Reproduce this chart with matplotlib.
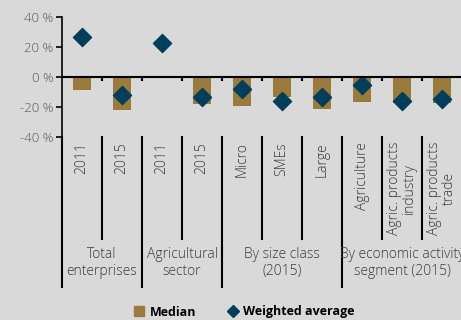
import matplotlib
matplotlib.use("Agg")
import matplotlib.pyplot as plt
from matplotlib.lines import Line2D
from matplotlib.transforms import blended_transform_factory
import numpy as np

plt.rcParams['font.family'] = ['Open Sans', 'DejaVu Sans']

categories = ["2011", "2015", "2011", "2015", "Micro", "SMEs", "Large",
              "Agriculture", "Agric. products\nindustry", "Agric. products\ntrade"]
groups = ["Total\nenterprises", "Agricultural\nsector", "By size class\n(2015)",
          "By economic activity\nsegment (2015)"]
group_sizes = [2, 2, 3, 3]
median = [-8.5, -21.8, 0, -17.8, -19.0, -13.5, -21.5, -16.4, -17.0, -17.5]
weighted = [26.5, -12.0, 22.7, -13.3, -8.0, -15.8, -13.1, -5.1, -16.0, -14.7]
yticks = [-40, -20, 0, 20, 40]
ytick_labels = ["-40 %", "-20 %", "0 %", "20 %", "40 %"]

bg = "#d9d9d9"
gold = "#9b7b3c"
navy = "#003f5c"
txt = "#3a3a3a"
LIGHT = "light"

W, H = 461, 320
fig = plt.figure(figsize=(W / 100, H / 100), dpi=100, facecolor=bg)
ax = fig.add_axes([62 / W, (H - 137) / H, 400 / W, 120 / H])
ax.set_facecolor(bg)

x = np.arange(len(categories))
ax.bar(x, median, width=0.45, color=gold, zorder=2, label="Median")
ax.scatter(x, weighted, marker="D", s=85, color=navy, zorder=3, label="Weighted average")

ax.set_xlim(-0.5, len(categories) - 0.5)
ax.set_ylim(-40, 40)
ax.set_yticks(yticks)
ax.set_yticklabels(ytick_labels, color="#595959", fontsize=9.5, fontweight=LIGHT)
ax.set_xticks([])
for s in ["top", "right", "bottom"]:
    ax.spines[s].set_visible(False)
ax.spines["left"].set_color("black")
ax.spines["left"].set_linewidth(1.2)
ax.tick_params(axis="y", length=4, width=1.2, color="black", pad=2)
ax.axhline(0, color="black", lw=1.5, zorder=4)
for b in np.arange(0.5, len(categories) - 0.5, 1.0):
    ax.plot([b, b], [0, -2.5], color="black", lw=1.5, zorder=4, solid_capstyle="butt")

trans = blended_transform_factory(ax.transData, fig.transFigure)
bounds = np.concatenate([[0], np.cumsum(group_sizes)]) - 0.5
group_b = set(np.round(bounds, 2))
for b in np.arange(-0.5, len(categories), 1.0):
    y_end = 287 if round(b, 2) in group_b else 239
    fig.add_artist(Line2D([b, b], [(H - 137) / H, (H - y_end) / H], transform=trans,
                          color="black", lw=1.5))

for i, c in enumerate(categories):
    fig.text(i, (H - 142) / H, c, transform=trans, rotation=90, ha="center", va="top",
             multialignment="center", fontsize=10, color=txt, linespacing=0.95,
             fontweight=LIGHT)

start = 0
for g, n in zip(groups, group_sizes):
    cx = start + (n - 1) / 2
    fig.text(cx, (H - 263) / H, g, transform=trans, ha="center", va="center",
             multialignment="center", fontsize=10, color=txt, linespacing=1.2,
             fontweight=LIGHT)
    start += n

handles = [Line2D([], [], marker="s", ls="none", color=gold, markersize=7),
           Line2D([], [], marker="D", ls="none", color=navy, markersize=6)]
leg = fig.legend(handles, ["Median", "Weighted average"], loc="center",
                 bbox_to_anchor=(244 / W, (H - 312) / H), ncol=2, frameon=False,
                 prop={"weight": "bold", "size": 9}, handletextpad=0.3,
                 columnspacing=2.5, handlelength=1.0)
for t in leg.get_texts():
    t.set_color("black")

fig.savefig("out.png", dpi=100, facecolor=bg)
